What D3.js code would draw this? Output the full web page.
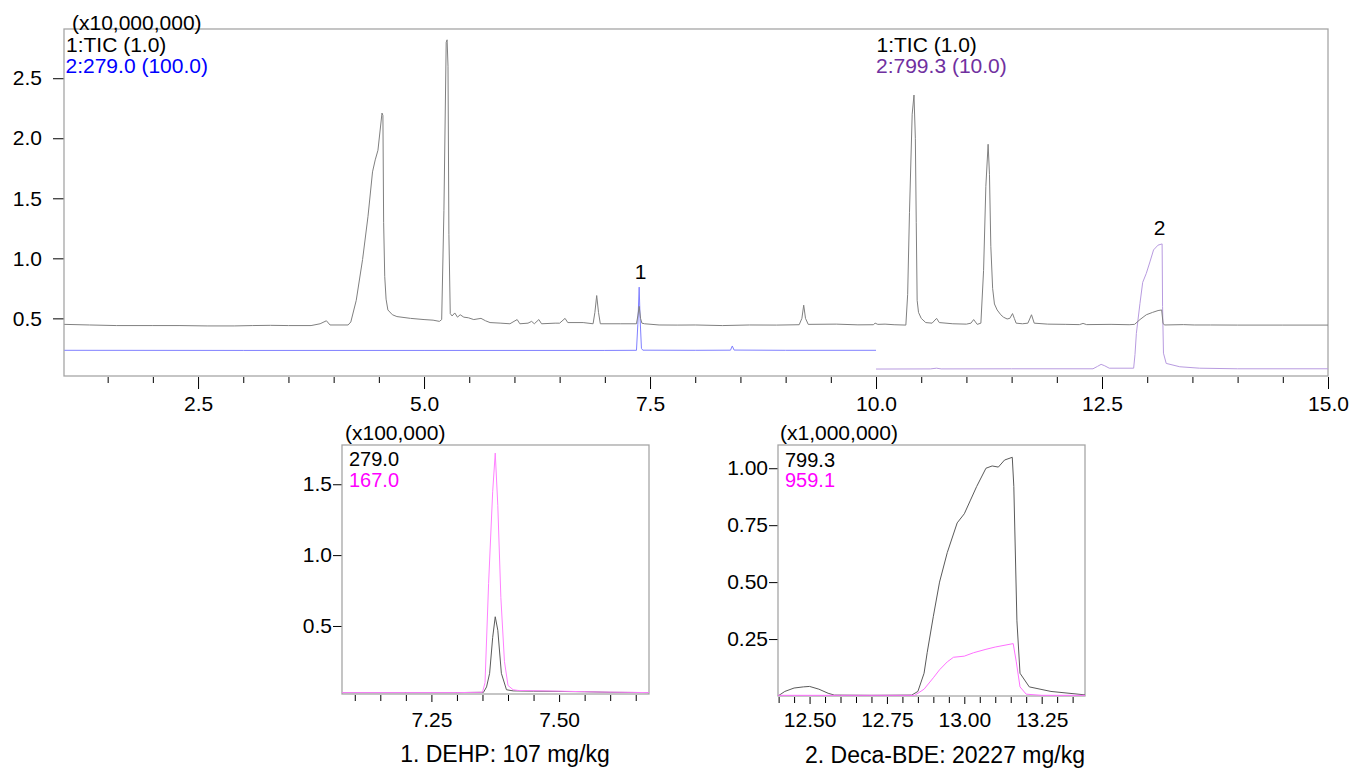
<!DOCTYPE html>
<html>
<head>
<meta charset="utf-8">
<script src="https://cdn.jsdelivr.net/npm/d3@7/dist/d3.min.js"></script>
<style>
  html, body { margin: 0; padding: 0; background: #fff; }
  svg { display: block; font-family: "Liberation Sans", Arial, sans-serif; }
  .tick text { font-family: "Liberation Sans", Arial, sans-serif; fill: #000; }
</style>
</head>
<body>
<svg id="chart" width="1349" height="770"></svg>
<script>
// ---------------- DATA ----------------
// Main chromatogram (intensity in x10,000,000), [time (min), intensity]
const ticTrace = [
[1.02,0.45],[1.3,0.445],[1.6,0.44],[2.0,0.44],[2.3,0.44],[2.6,0.437],[2.9,0.437],[3.1,0.44],[3.3,0.442],[3.5,0.44],
[3.75,0.44],[3.85,0.455],[3.92,0.48],[3.96,0.445],[4.16,0.445],[4.19,0.47],[4.25,0.65],[4.32,0.99],[4.38,1.35],
[4.43,1.72],[4.46,1.82],[4.49,1.9],[4.535,2.21],[4.545,2.19],[4.553,1.3],[4.565,0.85],[4.58,0.66],[4.60,0.57],
[4.65,0.53],[4.70,0.515],[4.85,0.50],[5.0,0.49],[5.1,0.485],[5.17,0.475],[5.195,0.49],[5.22,1.4],[5.245,2.8],
[5.255,2.82],[5.265,2.6],[5.275,1.2],[5.29,0.54],[5.31,0.52],[5.34,0.545],[5.37,0.51],[5.40,0.53],[5.44,0.51],
[5.49,0.505],[5.55,0.49],[5.63,0.5],[5.68,0.48],[5.73,0.465],[5.85,0.46],[5.95,0.455],[6.03,0.49],[6.06,0.455],
[6.15,0.46],[6.19,0.475],[6.22,0.455],[6.27,0.49],[6.30,0.455],[6.45,0.46],[6.5,0.46],[6.56,0.5],[6.59,0.465],
[6.76,0.465],[6.87,0.455],[6.89,0.55],[6.91,0.69],[6.93,0.55],[6.95,0.455],[7.17,0.455],[7.35,0.455],[7.365,0.52],
[7.38,0.60],[7.395,0.5],[7.41,0.46],[7.44,0.455],[7.6,0.445],[7.8,0.444],[8.0,0.445],[8.3,0.44],[8.6,0.445],
[8.9,0.444],[9.15,0.447],[9.18,0.5],[9.20,0.61],[9.22,0.5],[9.25,0.45],[9.56,0.452],[9.8,0.446],[9.97,0.447],
[9.99,0.46],[10.02,0.45],[10.1,0.452],[10.2,0.447],[10.33,0.444],[10.35,0.7],[10.37,1.38],[10.40,2.2],[10.42,2.36],
[10.435,2.0],[10.445,1.3],[10.455,0.65],[10.47,0.55],[10.5,0.5],[10.55,0.465],[10.62,0.46],[10.67,0.5],[10.70,0.465],
[10.85,0.455],[11.0,0.452],[11.05,0.46],[11.08,0.49],[11.12,0.45],[11.16,0.46],[11.19,0.9],[11.215,1.6],[11.24,1.95],
[11.255,1.7],[11.27,1.1],[11.29,0.75],[11.31,0.62],[11.34,0.57],[11.38,0.53],[11.41,0.51],[11.45,0.495],[11.48,0.5],
[11.51,0.54],[11.53,0.5],[11.55,0.46],[11.62,0.455],[11.68,0.46],[11.72,0.53],[11.75,0.46],[11.9,0.452],[12.1,0.45],
[12.25,0.448],[12.29,0.458],[12.33,0.448],[12.6,0.45],[12.8,0.447],[12.86,0.45],[12.92,0.49],[12.99,0.53],[13.06,0.55],
[13.12,0.565],[13.16,0.57],[13.175,0.46],[13.19,0.445],[13.4,0.448],[13.52,0.445],[13.7,0.445],[14.0,0.444],
[14.5,0.444],[15.0,0.444]
];
const mz279Trace = [
[1.02,0.234],[3.0,0.233],[5.0,0.233],[7.0,0.233],[7.35,0.234],[7.365,0.45],[7.38,0.76],[7.39,0.5],[7.405,0.25],
[7.42,0.235],[8.0,0.234],[8.39,0.235],[8.41,0.27],[8.43,0.236],[9.0,0.234],[10.0,0.234]
];
const mz799Trace = [
[10.0,0.078],[10.6,0.079],[10.67,0.085],[10.72,0.079],[11.5,0.08],[12.4,0.08],[12.45,0.1],[12.49,0.117],[12.53,0.105],
[12.58,0.085],[12.85,0.085],[12.865,0.2],[12.88,0.375],[12.92,0.625],[12.95,0.8],[12.99,0.875],[13.03,0.97],
[13.07,1.07],[13.12,1.11],[13.165,1.12],[13.17,0.6],[13.18,0.21],[13.21,0.125],[13.36,0.097],[13.58,0.085],
[14.0,0.08],[15.0,0.08]
];
// Inset 1: DEHP (x100,000)
const dehp279 = [
[7.075,0.03],[7.2,0.03],[7.3,0.03],[7.352,0.032],[7.358,0.07],[7.364,0.166],[7.37,0.42],[7.375,0.565],[7.38,0.47],
[7.387,0.166],[7.397,0.05],[7.41,0.042],[7.45,0.04],[7.55,0.036],[7.6,0.032],[7.676,0.03]
];
const dehp167 = [
[7.075,0.03],[7.2,0.03],[7.3,0.03],[7.35,0.032],[7.355,0.1],[7.362,0.8],[7.37,1.45],[7.375,1.72],[7.38,1.35],
[7.386,0.7],[7.393,0.25],[7.40,0.08],[7.41,0.05],[7.42,0.045],[7.5,0.04],[7.58,0.034],[7.676,0.03]
];
// Inset 2: Deca-BDE (x1,000,000)
const bde799 = [
[12.398,0.0],[12.42,0.02],[12.45,0.035],[12.48,0.04],[12.50,0.042],[12.53,0.03],[12.56,0.012],[12.58,0.004],
[12.7,0.003],[12.83,0.004],[12.85,0.02],[12.87,0.1],[12.88,0.19],[12.90,0.35],[12.92,0.50],[12.945,0.63],
[12.977,0.76],[13.0,0.80],[13.02,0.86],[13.04,0.92],[13.07,1.0],[13.09,1.01],[13.11,1.005],[13.13,1.036],
[13.155,1.048],[13.16,0.92],[13.17,0.33],[13.18,0.10],[13.21,0.04],[13.28,0.02],[13.39,0.005]
];
const bde959 = [
[12.398,0.003],[12.6,0.003],[12.84,0.003],[12.87,0.03],[12.90,0.08],[12.92,0.115],[12.945,0.15],[12.965,0.17],
[13.0,0.175],[13.03,0.19],[13.07,0.205],[13.1,0.215],[13.158,0.23],[13.168,0.15],[13.18,0.04],[13.2,0.008],
[13.25,0.003],[13.39,0.003]
];
// Tick values
const mainXMajor = [2.5, 5.0, 7.5, 10.0, 12.5, 15.0];
const mainYTicks = [0.5, 1.0, 1.5, 2.0, 2.5];
const in1XMajor = [7.25, 7.50];
const in1YTicks = [0.5, 1.0, 1.5];
const in2XMajor = [12.50, 12.75, 13.00, 13.25];
const in2YTicks = [0.25, 0.50, 0.75, 1.00];
// Labels
const mainScaleLabel = "(x10,000,000)";
const legendLeft = ["1:TIC (1.0)", "2:279.0 (100.0)"];
const legendRight = ["1:TIC (1.0)", "2:799.3 (10.0)"];
const peakLabels = [{t: 7.38, v: 0.76, text: "1"}, {t: 13.12, v: 1.12, text: "2"}];
const in1Legend = ["(x100,000)", "279.0", "167.0"];
const in2Legend = ["(x1,000,000)", "799.3", "959.1"];
const in1Title = "1. DEHP: 107 mg/kg";
const in2Title = "2. Deca-BDE: 20227 mg/kg";

// ---------------- DRAW ----------------
const svg = d3.select("#chart");
const FONT = 21;

function minorRange(a, b, step, majors) {
  const out = [];
  const n = Math.round((b - a) / step);
  for (let i = 0; i <= n; i++) {
    const v = +(a + i * step).toFixed(4);
    if (!majors.some(m => Math.abs(m - v) < 1e-6)) out.push(v);
  }
  return out;
}

function panel(cfg) {
  const g = svg.append("g");
  const x = d3.scaleLinear().domain(cfg.xDomain).range([cfg.left, cfg.right]);
  const y = d3.scaleLinear().domain(cfg.yDomain).range([cfg.bottom, cfg.top]);
  const clipId = "clip" + cfg.id;
  svg.append("clipPath").attr("id", clipId).append("rect")
    .attr("x", cfg.left).attr("y", cfg.top - 2)
    .attr("width", cfg.right - cfg.left).attr("height", cfg.bottom - cfg.top + 2);

  const xa = g.append("g").attr("transform", `translate(0,${cfg.bottom})`)
    .call(d3.axisBottom(x).tickValues(cfg.xMajor).tickFormat(d3.format(cfg.xFmt))
      .tickSize(cfg.xMajorLen).tickPadding(0));
  xa.select(".domain").remove();
  xa.selectAll(".tick line").attr("stroke", "#000").attr("transform", "translate(0,1)");
  xa.selectAll(".tick text").attr("font-size", FONT).attr("dy", 0).attr("y", cfg.xLabelY);
  const xm = g.append("g").attr("transform", `translate(0,${cfg.bottom})`)
    .call(d3.axisBottom(x).tickValues(cfg.xMinor).tickFormat("").tickSize(cfg.xMinorLen));
  xm.select(".domain").remove();
  xm.selectAll(".tick line").attr("stroke", "#000").attr("transform", "translate(0,1)");

  const ya = g.append("g").attr("transform", `translate(${cfg.left},0)`)
    .call(d3.axisLeft(y).tickValues(cfg.yTicks).tickFormat(d3.format(cfg.yFmt))
      .tickSize(cfg.yLen).tickPadding(cfg.yPad));
  ya.select(".domain").remove();
  ya.selectAll(".tick line").attr("stroke", "#000");
  ya.selectAll(".tick text").attr("font-size", FONT);

  g.append("rect").attr("x", cfg.left).attr("y", cfg.top)
    .attr("width", cfg.right - cfg.left).attr("height", cfg.bottom - cfg.top)
    .attr("fill", "none").attr("stroke", "#a6a6a6").attr("stroke-width", 1.3);

  const line = d3.line().x(d => x(d[0])).y(d => y(d[1]));
  const lines = g.append("g").attr("clip-path", `url(#${clipId})`);
  cfg.series.forEach(s => {
    lines.append("path").datum(s.data).attr("d", line)
      .attr("fill", "none").attr("stroke", s.color).attr("stroke-width", s.width || 1)
      .attr("stroke-linejoin", "round");
  });
  return {g, x, y};
}

const main = panel({
  id: "main", left: 64, right: 1328, top: 29, bottom: 376,
  xDomain: [1.017, 15], yDomain: [0.02, 2.91],
  xMajor: mainXMajor, xMinor: minorRange(1.5, 14.5, 0.5, mainXMajor), xFmt: ".1f",
  xMajorLen: 12, xMinorLen: 6, xLabelY: 35,
  yTicks: mainYTicks, yFmt: ".1f", yLen: 11, yPad: 11,
  series: [
    {data: mz279Trace, color: "#8080ff"},
    {data: mz799Trace, color: "#b89be0"},
    {data: ticTrace, color: "#808080"}
  ]
});
function txt(x, y, s, color, size, anchor) {
  svg.append("text").attr("x", x).attr("y", y).text(s)
    .attr("fill", color).attr("font-size", size).attr("text-anchor", anchor || "start");
}
txt(72, 30, mainScaleLabel, "#000", FONT);
txt(66, 52, legendLeft[0], "#000", FONT);
txt(65.5, 72.5, legendLeft[1], "#0000ff", FONT);
txt(876.5, 52, legendRight[0], "#000", FONT);
txt(876, 72.5, legendRight[1], "#7030a0", FONT);
peakLabels.forEach(p => {
  txt(main.x(p.t) + 1.5, main.y(p.v) - 8.5, p.text, "#000", FONT, "middle");
});

panel({
  id: "in1", left: 342, right: 649, top: 445, bottom: 694,
  xDomain: [7.075, 7.676], yDomain: [0.02, 1.777],
  xMajor: in1XMajor, xMinor: minorRange(7.10, 7.65, 0.05, in1XMajor), xFmt: ".2f",
  xMajorLen: 7, xMinorLen: 6, xLabelY: 33,
  yTicks: in1YTicks, yFmt: ".1f", yLen: 9, yPad: 1,
  series: [
    {data: dehp279, color: "#5a5a5a"},
    {data: dehp167, color: "#ff80ff"}
  ]
});
txt(345, 440, in1Legend[0], "#000", FONT);
txt(349, 466, in1Legend[1], "#000", 20);
txt(349, 487, in1Legend[2], "#ff00ff", 20);
txt(505, 762, in1Title, "#000", 23, "middle");

panel({
  id: "in2", left: 778, right: 1085, top: 445, bottom: 696,
  xDomain: [12.398, 13.39], yDomain: [0, 1.102],
  xMajor: in2XMajor, xMinor: minorRange(12.40, 13.35, 0.05, in2XMajor), xFmt: ".2f",
  xMajorLen: 7, xMinorLen: 6, xLabelY: 31,
  yTicks: in2YTicks, yFmt: ".2f", yLen: 9, yPad: 1,
  series: [
    {data: bde799, color: "#5a5a5a"},
    {data: bde959, color: "#ff70ff"}
  ]
});
txt(780, 440, in2Legend[0], "#000", FONT);
txt(785, 467, in2Legend[1], "#000", 20);
txt(785, 487, in2Legend[2], "#ff00ff", 20);
txt(945, 763, in2Title, "#000", 23, "middle");
</script>
</body>
</html>
